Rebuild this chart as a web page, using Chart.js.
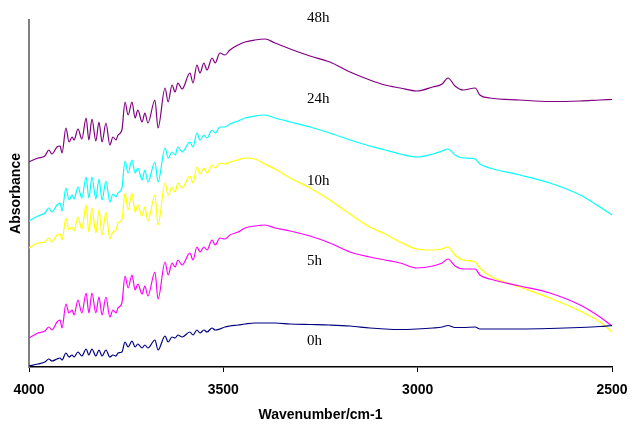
<!DOCTYPE html>
<html>
<head>
<meta charset="utf-8">
<script src="https://cdn.jsdelivr.net/npm/chart.js@4"></script>
<style>
  html, body { margin: 0; padding: 0; background: #fff; }
</style>
</head>
<body>
<canvas id="irChart" width="635" height="427"></canvas>
<script>
// wavenumber grid (cm-1), shared by every spectrum
const wavenumbers = [4000, 3977, 3959, 3949, 3941, 3928, 3920, 3915, 3905, 3897,
  3889, 3884, 3874, 3864, 3853, 3846, 3838, 3828, 3820, 3812,
  3802, 3792, 3784, 3776, 3771, 3761, 3753, 3745, 3735, 3727,
  3720, 3709, 3702, 3694, 3676, 3668, 3650, 3642, 3632, 3624,
  3617, 3606, 3586, 3578, 3568, 3560, 3550, 3542, 3529, 3521,
  3509, 3496, 3483, 3462, 3444, 3419, 3393, 3367, 3328, 3277,
  3226, 3174, 3123, 3084, 3045, 3002, 2961, 2937, 2922, 2904,
  2883, 2852, 2840, 2814, 2737, 2660, 2582, 2531, 2500];

// absorbance (arbitrary offset units)
const abs0h = [1, 3, 5, 8, 6, 8, 9, 7, 14, 10,
  12, 10, 15, 11, 18, 12, 18, 11, 17, 11,
  17, 10, 12, 11, 14, 15, 25, 20, 26, 20,
  23, 19, 22, 19, 27, 17, 31, 25, 30, 29,
  32, 30, 35, 32, 37, 34, 37, 35, 39, 37,
  38, 40, 41, 42, 43, 44, 44, 44, 43, 42.5,
  42, 41, 39, 38, 37.5, 38, 39, 40, 41.5, 39.5,
  39.5, 40, 38, 38, 38, 38.5, 39.5, 40.5, 41.5];

const abs5h = [29, 34, 36, 40, 37, 45, 47, 39, 63, 54,
  57, 52, 67, 54, 74, 54, 74, 54, 70, 52,
  70, 50, 57, 54, 59, 64, 91, 79, 92, 77,
  83, 73, 81, 71, 95, 68, 105, 92, 104, 100,
  107, 102, 114, 107, 120, 115, 120, 117, 127, 122,
  129, 128, 132, 135, 139, 141, 142, 139, 136, 131,
  124, 115, 110, 107, 104, 99, 101, 104, 108, 101,
  98, 98, 92, 88, 81, 74, 62, 50, 41];

const abs10h = [119, 124, 125, 129, 125, 132, 133, 127, 149, 137,
  140, 136, 150, 138, 162, 135, 159, 134, 157, 132,
  155, 128, 135, 137, 144, 147, 174, 157, 174, 155,
  162, 151, 160, 146, 172, 142, 184, 172, 180, 175,
  184, 179, 191, 184, 200, 193, 199, 194, 202, 199,
  204, 203, 205, 207, 209, 208, 203, 198, 189, 179,
  167, 153, 140, 133, 125, 118, 117, 118, 120, 112,
  107, 105, 99, 91, 80, 69, 56, 45, 35];

const abs24h = [146, 151, 154, 159, 155, 162, 164, 156, 179, 167,
  172, 168, 180, 169, 190, 169, 190, 168, 188, 167,
  186, 165, 173, 170, 174, 179, 206, 194, 207, 194,
  199, 187, 197, 185, 205, 185, 219, 209, 215, 212,
  220, 215, 225, 220, 234, 227, 232, 229, 237, 234,
  240, 240, 243, 246, 249, 251, 252, 249, 245, 240,
  234, 227, 221, 217, 213, 210, 213, 216, 218, 212,
  209, 208, 203, 199, 192, 184, 172, 160, 152];

const abs48h = [205, 209, 211, 217, 213, 220, 221, 214, 239, 225,
  230, 227, 238, 228, 249, 227, 248, 226, 245, 225,
  244, 222, 230, 227, 232, 237, 265, 252, 265, 249,
  257, 245, 254, 244, 267, 239, 279, 265, 282, 275,
  284, 278, 294, 284, 302, 294, 304, 297, 309, 304,
  314, 312, 317, 322, 325, 327, 328, 324, 318, 311,
  305, 295, 287, 282, 279, 276, 280, 283, 289, 281,
  277, 279, 272, 269, 267, 265.5, 266, 267, 267.5];

const seriesNames = ['0h', '5h', '10h', '24h', '48h'];
const seriesColors = ['#000080', '#FF00FF', '#FFFF00', '#00FFFF', '#800080'];
const xTicks = [4000, 3500, 3000, 2500];

// where the time labels sit, in data units
const labelWavenumber = 3285;
const labelLevels = [26, 106, 186, 267.5, 348.5];

const allSeries = [abs0h, abs5h, abs10h, abs24h, abs48h];

const datasets = allSeries.map((vals, i) => ({
  label: seriesNames[i],
  data: wavenumbers.map((w, j) => ({ x: w, y: vals[j] })),
  borderColor: seriesColors[i],
  backgroundColor: seriesColors[i],
  borderWidth: 1.2,
  pointRadius: 0,
  fill: false,
  cubicInterpolationMode: 'monotone',
}));

const curveLabels = {
  id: 'curveLabels',
  afterDatasetsDraw(chart) {
    const ctx = chart.ctx;
    const xs = chart.scales.x;
    const ys = chart.scales.y;
    ctx.save();
    ctx.font = '15px "Liberation Serif", "Times New Roman", serif';
    ctx.fillStyle = '#000';
    ctx.textAlign = 'left';
    ctx.textBaseline = 'middle';
    seriesNames.forEach((name, i) => {
      ctx.fillText(name, xs.getPixelForValue(labelWavenumber), ys.getPixelForValue(labelLevels[i]));
    });
    ctx.restore();
  }
};

const sansBold = { family: '"Liberation Sans", Arial, sans-serif', size: 14, weight: 'bold' };

new Chart(document.getElementById('irChart').getContext('2d'), {
  type: 'line',
  data: { datasets },
  options: {
    responsive: false,
    animation: false,
    devicePixelRatio: 1,
    layout: { padding: { top: 20, left: 4, right: 23, bottom: 3 } },
    plugins: {
      legend: { display: false },
      tooltip: { enabled: false },
    },
    scales: {
      x: {
        type: 'linear',
        reverse: true,
        min: 2500,
        max: 4000,
        afterBuildTicks: (axis) => { axis.ticks = xTicks.map(v => ({ value: v })); },
        afterFit: (axis) => {
          axis.height = 57;
          axis.paddingLeft = 0;
          axis.paddingRight = 0;
        },
        ticks: {
          color: '#000',
          font: sansBold,
          padding: 10,
          maxRotation: 0,
          autoSkip: false,
          callback: (v) => String(v),
        },
        grid: {
          drawOnChartArea: false,
          drawTicks: true,
          tickLength: 5,
          color: '#000',
        },
        border: { color: '#000', width: 1.5 },
        title: {
          display: true,
          text: 'Wavenumber/cm-1',
          color: '#000',
          font: sansBold,
          padding: { top: 9, bottom: 0 },
        },
      },
      y: {
        type: 'linear',
        min: 0,
        max: 347,
        afterFit: (axis) => { axis.width = 25; },
        ticks: { display: false },
        grid: { display: false },
        border: { color: '#808080', width: 2 },
        title: {
          display: true,
          text: 'Absorbance',
          color: '#000',
          font: sansBold,
          padding: { top: 4, bottom: 4 },
        },
      },
    },
  },
  plugins: [curveLabels],
});
</script>
</body>
</html>
